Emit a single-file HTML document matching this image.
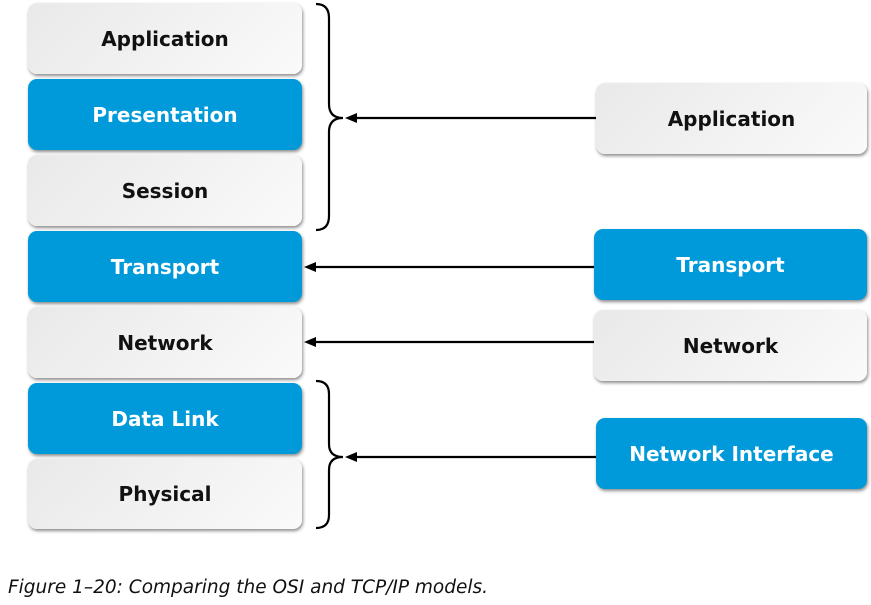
<!DOCTYPE html>
<html><head><style>
body{margin:0;width:871px;height:605px;background:#fff;position:relative;font-family:"DejaVu Sans","Liberation Sans",sans-serif;overflow:hidden}
.b{position:absolute;border-radius:9px;display:flex;align-items:center;justify-content:center;font-weight:bold;font-size:20px;box-shadow:1px 2px 3px rgba(0,0,0,.45)}
.w{background:linear-gradient(135deg,#e9e9e9,#fafafa);color:#111}
.u{background:#009ada;color:#fff}
.l{left:28px;width:274px;height:71px}
.cap{position:absolute;left:8px;top:577px;font-style:italic;font-size:18.5px;color:#111;font-family:"DejaVu Sans",sans-serif}
</style></head><body>
<div class="b w l" style="top:3px">Application</div>
<div class="b u l" style="top:79px">Presentation</div>
<div class="b w l" style="top:155px">Session</div>
<div class="b u l" style="top:231px">Transport</div>
<div class="b w l" style="top:307px">Network</div>
<div class="b u l" style="top:383px">Data Link</div>
<div class="b w l" style="top:459px;height:70px">Physical</div>
<div class="b w" style="left:596px;top:83px;width:271px;height:71px">Application</div>
<div class="b u" style="left:594px;top:229px;width:273px;height:71px">Transport</div>
<div class="b w" style="left:594px;top:310px;width:273px;height:71px">Network</div>
<div class="b u" style="left:596px;top:418px;width:271px;height:71px">Network Interface</div>
<svg width="871" height="605" style="position:absolute;left:0;top:0" fill="none" stroke="#000" stroke-width="2.2">
<path d="M316 4 Q329 4 329 18 V104 Q329 118 343 118 Q329 118 329 132 V216 Q329 230 316 230"/>
<path d="M316 381 Q329 381 329 394 V444 Q329 457 343 457 Q329 457 329 470 V515 Q329 528 316 528"/>
<line x1="596" y1="118" x2="355" y2="118"/>
<line x1="594" y1="267" x2="314" y2="267"/>
<line x1="594" y1="342" x2="314" y2="342"/>
<line x1="596" y1="457" x2="355" y2="457"/>
<g fill="#000" stroke="none">
<path d="M345 118 L357 113 L357 123Z"/>
<path d="M304 267 L316 262 L316 272Z"/>
<path d="M304 342 L316 337 L316 347Z"/>
<path d="M345 457 L357 452 L357 462Z"/>
</g></svg>
<div class="cap">Figure 1–20: Comparing the OSI and TCP/IP models.</div>
</body></html>
